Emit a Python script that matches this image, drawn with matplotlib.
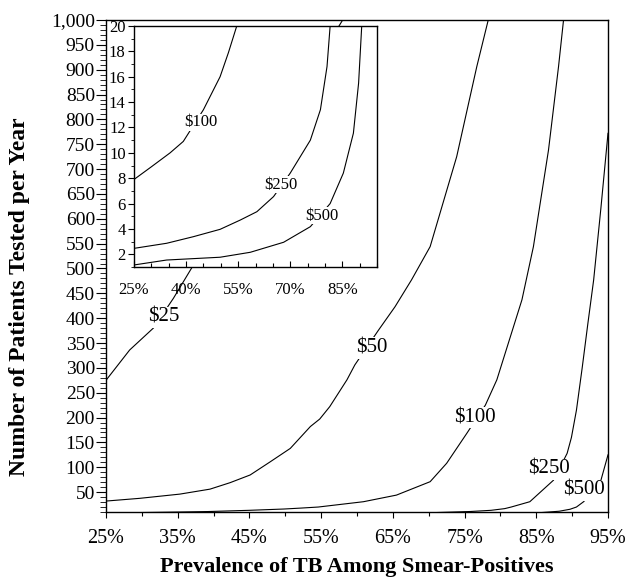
import matplotlib
matplotlib.use("Agg")
import matplotlib.pyplot as plt
import matplotlib.ticker as ticker

plt.rcParams["font.family"] = ["Liberation Serif", "DejaVu Serif"]

W, H = 628, 578

# iso-cost curves: prevalence of TB (%) vs patients tested per year
prev_25 = [25, 28.3, 31.6, 34.4, 36.9, 58]
pat_25 = [275, 336, 380, 440, 500, 1000]

prev_50 = [25, 29.7, 35.3, 39.5, 42.3, 45.1, 47.9, 50.7, 53.5, 54.8, 56.2, 58.6,
           59.7, 63, 65.3, 67.6, 70.2, 73.9, 76.7, 78.3]
pat_50 = [32, 37.5, 46, 56, 69, 84.5, 111, 138, 182, 197, 222, 276,
          306, 376, 423, 477, 544, 725, 906, 1000]

prev_100 = [25, 30, 35.4, 39.2, 45, 49.8, 52.2, 54.6, 60.9, 65.5, 70.2, 72.5, 75.3,
            77.9, 79.5, 83.0, 84.6, 86.7, 88.1, 88.8]
pat_100 = [7.9, 8.9, 10, 10.9, 13.4, 16, 17.9, 20, 30.7, 44, 71, 108, 168,
           225, 276, 437, 544, 738, 906, 1000]

prev_250 = [25, 34.4, 42.1, 49.8, 55.6, 60.4, 65.2, 70, 75.8, 78.7, 80.6, 81.5,
            84.1, 87.4, 89.3, 89.9, 90.6, 91.4, 92.2, 93.0, 94.0, 95]
pat_250 = [2.47, 2.87, 3.39, 3.97, 4.7, 5.36, 6.55, 8.4, 11.0, 13.4, 16.8, 20,
           30.7, 74, 128, 160, 215, 300, 390, 477, 620, 772]

prev_500 = [25, 34.4, 49.8, 58.5, 68.1, 75.8, 81.5, 85.3, 88.2, 89.7, 90.6,
            91.6, 93.9, 95]
pat_500 = [1.16, 1.55, 1.77, 2.16, 2.95, 4.18, 6.0, 8.4, 11.55, 15.5, 20,
           30.7, 68, 125]

curves = [(prev_25, pat_25), (prev_50, pat_50), (prev_100, pat_100),
          (prev_250, pat_250), (prev_500, pat_500)]

main_labels = ["$25", "$50", "$100", "$250", "$500"]
main_label_x = [33.0, 62.0, 76.5, 86.8, 91.7]
main_label_y = [402, 340, 200, 96, 54]

inset_labels = ["$100", "$250", "$500"]
inset_label_x = [44.2, 67.3, 79.1]
inset_label_y = [12.4, 7.5, 5.05]


def draw_curves(ax):
    for xs, ys in curves:
        ax.plot(xs, ys, color="black", linewidth=0.8)


def draw_labels(ax, texts, xs, ys, size):
    for t, x, y in zip(texts, xs, ys):
        ax.text(x, y, t, fontsize=size, ha="center", va="center", zorder=5,
                bbox=dict(boxstyle="square,pad=0.05", fc="white", ec="none"))


pct = ticker.FuncFormatter(lambda v, _: f"{v:.0f}%")

fig = plt.figure(figsize=(W / 100, H / 100), dpi=100)

# main chart
ax = fig.add_axes([106 / W, 66 / H, 502 / W, 492 / H])
draw_curves(ax)
draw_labels(ax, main_labels, main_label_x, main_label_y, 15)
ax.set_xlim(25, 95)
ax.set_ylim(10, 1000)
ax.xaxis.set_major_locator(ticker.MultipleLocator(10, offset=5))
ax.xaxis.set_minor_locator(ticker.MultipleLocator(5))
ax.yaxis.set_major_locator(ticker.MultipleLocator(50))
ax.yaxis.set_minor_locator(ticker.MultipleLocator(10))
ax.xaxis.set_major_formatter(pct)
ax.yaxis.set_major_formatter(ticker.FuncFormatter(lambda v, _: f"{v:,.0f}"))
ax.tick_params(axis="x", which="major", length=4, width=0.8, pad=8, labelsize=14.5)
ax.tick_params(axis="x", which="minor", length=3, width=0.8)
ax.tick_params(axis="y", which="major", length=7, width=0.8, pad=1, labelsize=14)
ax.tick_params(axis="y", which="minor", length=4, width=0.6)
for s in ax.spines.values():
    s.set_linewidth(1.0)

# inset zoom on the low-volume region
axi = fig.add_axes([134 / W, 311 / H, 243 / W, 241 / H])
axi.set_facecolor("white")
draw_curves(axi)
draw_labels(axi, inset_labels, inset_label_x, inset_label_y, 12)
axi.set_xlim(25, 95)
axi.set_ylim(1, 20)
axi.xaxis.set_major_locator(ticker.MultipleLocator(15, offset=10))
axi.xaxis.set_minor_locator(ticker.MultipleLocator(5))
axi.yaxis.set_major_locator(ticker.MultipleLocator(2))
axi.yaxis.set_minor_locator(ticker.MultipleLocator(1))
axi.xaxis.set_major_formatter(pct)
axi.tick_params(axis="x", which="both", direction="in", width=0.8, pad=11, labelsize=12)
axi.tick_params(axis="x", which="major", length=4)
axi.tick_params(axis="x", which="minor", length=3)
axi.tick_params(axis="y", which="major", length=4, width=0.8, pad=2, labelsize=12)
axi.tick_params(axis="y", which="minor", length=2.5, width=0.6)
for s in axi.spines.values():
    s.set_linewidth(1.0)

fig.text(357 / W, 1 - 567 / H, "Prevalence of TB Among Smear-Positives",
         fontsize=16, fontweight="bold", ha="center", va="center")
fig.text(20 / W, 1 - 297 / H, "Number of Patients Tested per Year",
         fontsize=17, fontweight="bold", ha="center", va="center", rotation=90)

fig.savefig("out.png", dpi=100)
